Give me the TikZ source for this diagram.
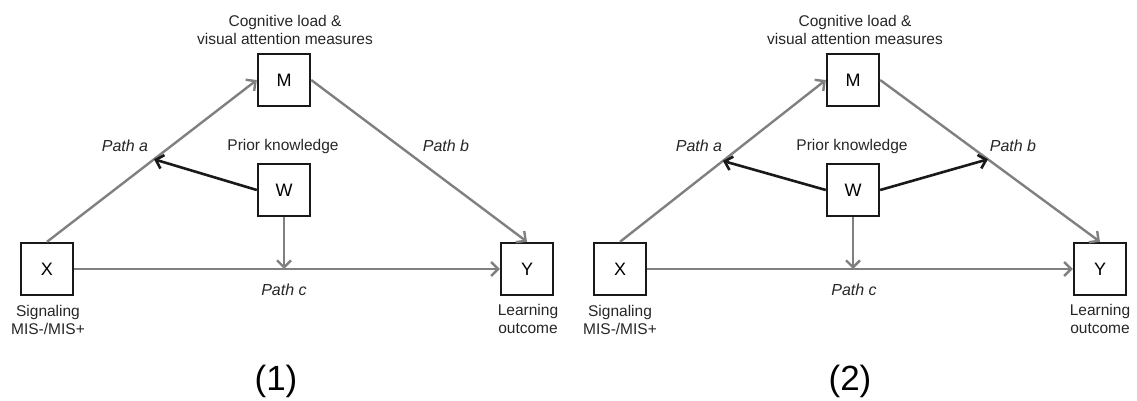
\documentclass[tikz,border=0pt]{standalone}
\usepackage{fontspec}
\setmainfont{Liberation Sans}
\usetikzlibrary{arrows.meta,calc}
\begin{document}
\begin{tikzpicture}[x=1pt,y=-1pt,
  var/.style={draw=black!90, line width=2.4pt, minimum width=52pt, minimum height=52pt,
    inner sep=0pt, font=\fontsize{18}{20}\selectfont},
  lbl/.style={font=\fontsize{15.5}{18.5}\selectfont, text=black!85, align=center, inner sep=0pt},
  pathlbl/.style={font=\fontsize{16}{19}\selectfont\itshape, text=black!85, inner sep=0pt},
  panel/.style={font=\fontsize{35}{40}\selectfont, inner sep=0pt},
  barb/.style={-{Straight Barb[length=7pt,width=14pt]}},
  grayarrow/.style={barb, draw=black!50, line width=2.4pt},
  modarrow/.style={barb, draw=black!90, line width=2.6pt}]
\useasboundingbox (0,0) rectangle (1137,401);

% ---------- model (1) ----------
\node[var] (M1) at (284,80) {M};
\node[var] (W1) at (284,190) {W};
\node[var] (X1) at (47,269) {X};
\node[var] (Y1) at (527,269) {Y};

\node[lbl] (tm1) at (285,30) {Cognitive load \&\\visual attention measures};
\node[lbl] (tw1) at (283,146) {Prior knowledge};
\node[lbl] (tx1) at (48,320) {Signaling\\MIS-/MIS+};
\node[lbl] (ty1) at (528,319) {Learning\\outcome};
\node[pathlbl] (pa1) at (125,146) {Path a};
\node[pathlbl] (pb1) at (446,146) {Path b};
\node[pathlbl] (pc1) at (284,290) {Path c};
\node[panel] (n1) at (276,381) {(1)};

\draw[grayarrow] (X1.north) -- (M1.west);
\draw[grayarrow] (M1.east) -- (Y1.north);
\draw[grayarrow] (X1.east) -- (Y1.west);
\coordinate (wc1) at (W1.south |- X1.east);
\draw[grayarrow] (W1.south) -- (wc1);
\coordinate (wa1) at ($(X1.north)!0.51!(M1.west)$);
\draw[modarrow] (W1.west) -- (wa1);

% ---------- model (2) ----------
\node[var] (M2) at (853,80) {M};
\node[var] (W2) at (853,190) {W};
\node[var] (X2) at (620,269) {X};
\node[var] (Y2) at (1100,269) {Y};

\node[lbl] (tm2) at (855,30) {Cognitive load \&\\visual attention measures};
\node[lbl] (tw2) at (852,146) {Prior knowledge};
\node[lbl] (tx2) at (620,320) {Signaling\\MIS-/MIS+};
\node[lbl] (ty2) at (1100,319) {Learning\\outcome};
\node[pathlbl] (pa2) at (699,146) {Path a};
\node[pathlbl] (pb2) at (1013,146) {Path b};
\node[pathlbl] (pc2) at (854,290) {Path c};
\node[panel] (n2) at (850,381) {(2)};

\draw[grayarrow] (X2.north) -- (M2.west);
\draw[grayarrow] (M2.east) -- (Y2.north);
\draw[grayarrow] (X2.east) -- (Y2.west);
\coordinate (wc2) at (W2.south |- X2.east);
\draw[grayarrow] (W2.south) -- (wc2);
\coordinate (wa2) at ($(X2.north)!0.5!(M2.west)$);
\coordinate (wb2) at ($(M2.east)!0.49!(Y2.north)$);
\draw[modarrow] (W2.west) -- (wa2);
\draw[modarrow] (W2.east) -- (wb2);
\end{tikzpicture}
\end{document}
